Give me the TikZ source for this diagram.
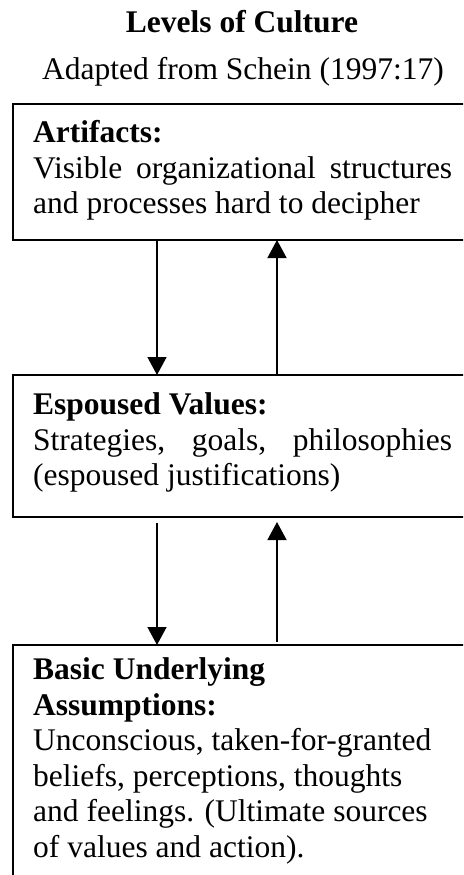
\documentclass[tikz,border=0pt]{standalone}
\usepackage{fontspec}
\setmainfont{Liberation Serif}
\usetikzlibrary{arrows.meta}
\begin{document}
\begin{tikzpicture}[x=1pt,y=-1pt,
  box/.style={draw, line width=1.6pt, minimum width=462pt, inner sep=0pt, outer sep=0pt},
  txt/.style={anchor=north west, inner sep=0pt, text width=419pt, align=flush left,
              font=\fontsize{31.5}{35.5}\selectfont},
  ttl/.style={anchor=base, inner sep=0pt, font=\fontsize{31.5}{35.5}\selectfont},
  arr/.style={line width=1.5pt, -{Triangle[length=18pt,width=19pt]}},
]
\clip (0,0) rectangle (463,875);
\useasboundingbox (0,0) rectangle (463,875);

\node[ttl, font=\bfseries\fontsize{31.5}{35.5}\selectfont] (title) at (242,33) {Levels of Culture};
\node[ttl] (sub) at (243,79) {Adapted from Schein (1997:17)};

\node[box, minimum height=136pt] (b1) at (244,172) {};
\node[box, minimum height=142pt] (b2) at (244,446) {};
\node[box, minimum height=260pt] (b3) at (244,775) {};

\node[txt] (t1) at (33,117.8) {\textbf{Artifacts:}\strut\\
\leavevmode\hbox to 419pt{\strut Visible\hfill organizational\hfill structures}\\
and processes hard to decipher\strut};

\node[txt] (t2) at (33,389.8) {\textbf{Espoused Values:}\strut\\
\leavevmode\hbox to 419pt{\strut Strategies,\hfill goals,\hfill philosophies}\\
(espoused justifications)\strut};

\node[txt] (t3) at (33,654.8) {\textbf{Basic Underlying}\strut\\
\textbf{Assumptions:}\strut\\
Unconscious, taken-for-granted\strut\\
beliefs, perceptions, thoughts\strut\\
and feelings. (Ultimate sources\strut\\
of values and action).\strut};

\coordinate (xd) at (157,0);
\coordinate (xu) at (277,0);

\draw[arr] (b1.south -| xd) -- (b2.north -| xd);
\draw[arr] (b2.north -| xu) -- (b1.south -| xu);
\draw[arr, shorten <=6pt] (b2.south -| xd) -- (b3.north -| xd);
\draw[arr, shorten <=3pt, shorten >=5pt] (b3.north -| xu) -- (b2.south -| xu);
\end{tikzpicture}
\end{document}
